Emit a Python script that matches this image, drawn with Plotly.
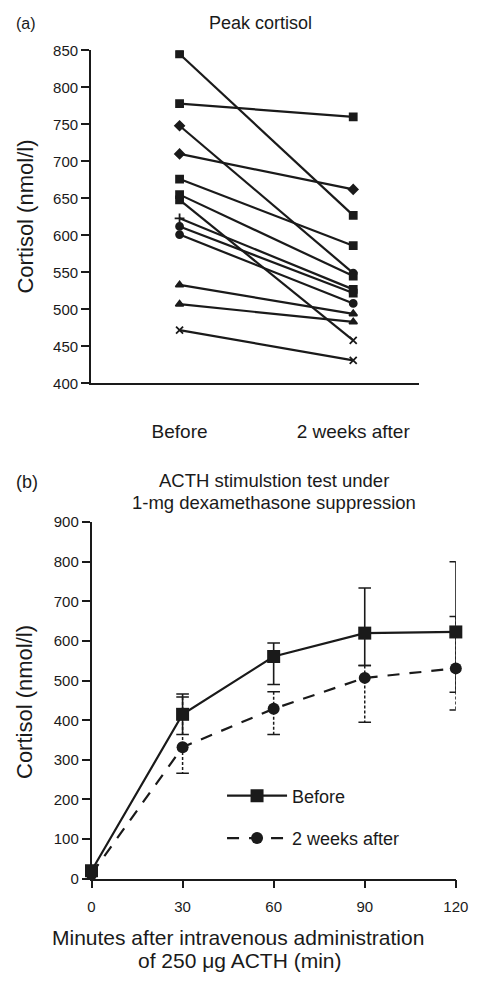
import plotly.graph_objects as go

W, H = 483, 981
FONT = "Liberation Sans, Arial, sans-serif"
INK = "#1a1a1a"

# ---------------- Panel (a) data ----------------
groups_a = ["Before", "2 weeks after"]
peak_before = [845, 778, 748, 710, 676, 655, 648, 623, 612, 601, 533, 507, 472]
peak_after = [627, 760, 549, 662, 586, 545, 458, 527, 522, 508, 494, 483, 431]
sym_before = ["square", "square", "diamond", "diamond", "square", "square", "square",
              "cross-thin", "circle", "circle", "triangle-up", "triangle-up", "x-thin"]
sym_after = ["square", "square", "circle", "diamond", "square", "square", "x-thin",
             "square", "square", "circle", "triangle-up", "triangle-up", "x-thin"]

# ---------------- Panel (b) data ----------------
minutes = [0, 30, 60, 90, 120]
before_mean = [20, 415, 561, 620, 623]
before_hi = [20, 466, 595, 734, 800]
before_lo = [20, 364, 490, 538, 471]
after_mean = [12, 332, 429, 507, 531]
after_hi = [12, 459, 472, 538, 662]
after_lo = [12, 266, 364, 395, 426]

fig = go.Figure()

# Panel (a) lines
for b, a, sb, sa in zip(peak_before, peak_after, sym_before, sym_after):
    fig.add_trace(go.Scatter(
        x=[0, 1], y=[b, a], mode="lines+markers",
        line=dict(color=INK, width=2.2),
        marker=dict(symbol=[sb, sa], size=7, color=INK,
                    line=dict(color=INK, width=1.8)),
        xaxis="x", yaxis="y", showlegend=False, hoverinfo="skip"))

# Panel (b) error bars (after: dashed)
ex, ey = [], []
for t, hi, lo in zip(minutes[1:], after_hi[1:], after_lo[1:]):
    ex += [t, t, None]
    ey += [hi, lo, None]
fig.add_trace(go.Scatter(x=ex, y=ey, mode="lines",
                         line=dict(color=INK, width=1.5, dash="3px,2px"),
                         xaxis="x2", yaxis="y2", showlegend=False, hoverinfo="skip"))
fig.add_trace(go.Scatter(x=minutes[1:] + minutes[1:], y=after_hi[1:] + after_lo[1:],
                         mode="markers",
                         marker=dict(symbol="line-ew-open", size=9, color=INK,
                                     line=dict(color=INK, width=1.5)),
                         xaxis="x2", yaxis="y2", showlegend=False, hoverinfo="skip"))
# before: solid
bx, by = [], []
for t, hi, lo in zip(minutes[1:], before_hi[1:], before_lo[1:]):
    bx += [t, t, None]
    by += [hi, lo, None]
fig.add_trace(go.Scatter(x=bx, y=by, mode="lines",
                         line=dict(color=INK, width=1.6),
                         xaxis="x2", yaxis="y2", showlegend=False, hoverinfo="skip"))
fig.add_trace(go.Scatter(x=minutes[1:] + minutes[1:], y=before_hi[1:] + before_lo[1:],
                         mode="markers",
                         marker=dict(symbol="line-ew-open", size=9, color=INK,
                                     line=dict(color=INK, width=1.5)),
                         xaxis="x2", yaxis="y2", showlegend=False, hoverinfo="skip"))

# Panel (b) main series
fig.add_trace(go.Scatter(x=minutes, y=after_mean, mode="lines+markers",
                         name="2 weeks after", legendgroup="g2", legendrank=2,
                         line=dict(color=INK, width=2.2, dash="12px,10px"),
                         marker=dict(symbol="circle", size=12, color=INK),
                         cliponaxis=False, xaxis="x2", yaxis="y2"))
fig.add_trace(go.Scatter(x=minutes, y=before_mean, mode="lines+markers",
                         name="Before", legendgroup="g1", legendrank=1,
                         line=dict(color=INK, width=2.2),
                         marker=dict(symbol="square", size=13, color=INK),
                         cliponaxis=False, xaxis="x2", yaxis="y2"))

def py(p):
    return 1 - p / H

def px(p):
    return p / W

axis_common = dict(showgrid=False, zeroline=False, showline=True,
                   linecolor=INK, linewidth=1.5, color=INK,
                   tickfont=dict(family=FONT, size=15, color=INK))

fig.update_layout(
    width=W, height=H, margin=dict(l=0, r=0, t=0, b=0),
    plot_bgcolor="white", paper_bgcolor="white",
    font=dict(family=FONT, color=INK),
    xaxis=dict(axis_common, domain=[px(90), px(430)], range=[-0.511, 1.378],
               tickmode="array", tickvals=[0, 1], ticktext=groups_a,
               ticks="", anchor="y", ticklabelstandoff=30,
               tickfont=dict(family=FONT, size=19, color=INK)),
    yaxis=dict(axis_common, domain=[py(381), py(42)], range=[400, 850],
               tickvals=list(range(400, 851, 50)), ticks="outside", ticklen=8,
               tickwidth=1.5, anchor="x"),
    xaxis2=dict(axis_common, domain=[px(90.7), px(468.3)], range=[0, 120],
                tickvals=minutes, ticks="outside", ticklen=8, tickwidth=1.5,
                anchor="y2", ticklabelstandoff=6),
    yaxis2=dict(axis_common, domain=[py(885), py(522.3)], range=[0, 900],
                tickvals=list(range(0, 901, 100)), ticks="outside", ticklen=8,
                tickwidth=1.5, anchor="x2"),
    legend=dict(x=px(226), y=py(782), xanchor="left", yanchor="top",
                bgcolor="rgba(0,0,0,0)", tracegroupgap=16, traceorder="grouped",
                itemwidth=60,
                font=dict(family=FONT, size=18, color=INK)),
    showlegend=True,
)

ann = [
    dict(text="(a)", x=px(10), y=py(15), xanchor="left", size=16),
    dict(text="Peak cortisol", x=px(266), y=py(14), xanchor="center", size=18),
    dict(text="(b)", x=px(10), y=py(481), xanchor="left", size=18),
    dict(text="ACTH stimulstion test under", x=px(280), y=py(480), xanchor="center", size=18.5),
    dict(text="1-mg dexamethasone suppression", x=px(280), y=py(502), xanchor="center", size=18.5),
    dict(text="Minutes after intravenous administration", x=px(243), y=py(945), xanchor="center", size=21),
    dict(text="of 250 μg ACTH (min)", x=px(245), y=py(968), xanchor="center", size=21),
]
for a in ann:
    fig.add_annotation(text=a["text"], x=a["x"], y=a["y"], xref="paper", yref="paper",
                       xanchor=a["xanchor"], yanchor="middle", showarrow=False,
                       font=dict(family=FONT, size=a["size"], color=INK))
for yc in (211, 705):
    fig.add_annotation(text="Cortisol (nmol/l)", x=px(22), y=py(yc), xref="paper",
                       yref="paper", textangle=-90, showarrow=False,
                       xanchor="center", yanchor="middle",
                       font=dict(family=FONT, size=22, color=INK))

fig.write_html("out.html")
